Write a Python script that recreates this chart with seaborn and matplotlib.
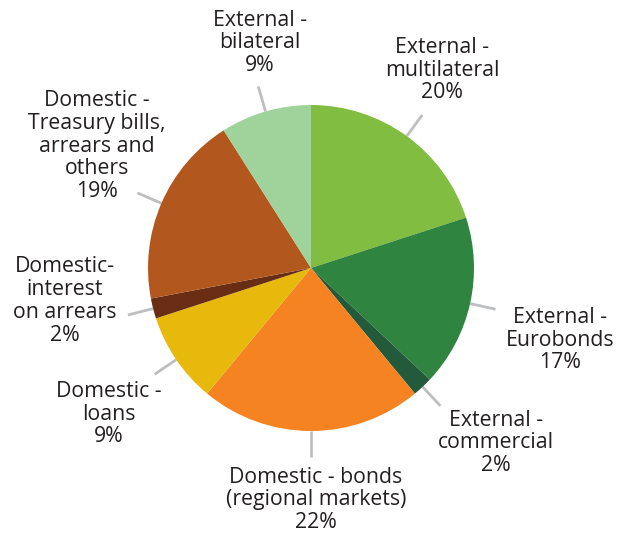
import numpy as np
import matplotlib
matplotlib.use("Agg")
import matplotlib.pyplot as plt
import seaborn as sns

labels = [
    "External -\nmultilateral\n20%",
    "External -\nEurobonds\n17%",
    "External -\ncommercial\n2%",
    "Domestic - bonds\n(regional markets)\n22%",
    "Domestic -\nloans\n9%",
    "Domestic-\ninterest\non arrears\n2%",
    "Domestic -\nTreasury bills,\narrears and\nothers\n19%",
    "External -\nbilateral\n9%",
]
values = [20, 17, 2, 22, 9, 2, 19, 9]
colors = ["#80bd41", "#2f843f", "#245a3c", "#f58321", "#e7b90d", "#682d12", "#b2581e", "#9fd39b"]

# label centres in pixel coordinates (x, y from top)
label_px = [(442, 70), (560, 340), (496, 443), (316, 500), (109, 414), (65, 301), (97, 146), (260, 43)]

sns.set_theme(style="white")
plt.rcParams["font.family"] = ["Open Sans", "DejaVu Sans"]

W, H = 623, 538
cx, cy, R = 311, 268, 163
fig = plt.figure(figsize=(W / 100, H / 100), dpi=100)
ax = fig.add_axes([0, 0, 1, 1])

wedges, _ = ax.pie(values, colors=sns.color_palette(colors), startangle=90, counterclock=False,
                   radius=1, center=(0, 0), wedgeprops=dict(linewidth=0), frame=True)
ax.set_xlim(-cx / R, (W - cx) / R)
ax.set_ylim(-(H - cy) / R, cy / R)
ax.set_aspect("auto")
ax.axis("off")

for w, lab, (px, py) in zip(wedges, labels, label_px):
    mid = np.deg2rad((w.theta1 + w.theta2) / 2)
    ax.plot([np.cos(mid) * 1.0, np.cos(mid) * 1.16], [np.sin(mid) * 1.0, np.sin(mid) * 1.16],
            color="#bcbec0", lw=2, solid_capstyle="butt", zorder=0.5)
    ax.text((px - cx) / R, (cy - py) / R, lab, ha="center", va="center", fontsize=15.3,
            color="#231f20", linespacing=1.12)

fig.savefig("out.png", dpi=100)
